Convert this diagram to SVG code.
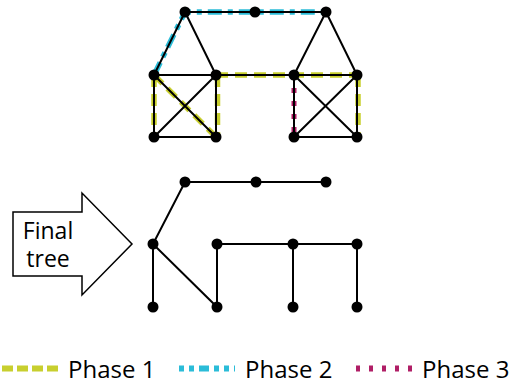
<svg xmlns="http://www.w3.org/2000/svg" width="512" height="385" viewBox="0 0 512 385">
<style>
.e{stroke:#000;stroke-width:2;fill:none;stroke-linecap:round}
.p1{stroke:#c8cf2e;stroke-width:5.5;fill:none;stroke-dasharray:12 7}
.p2{stroke:#2bbcd8;stroke-width:5.5;fill:none;stroke-dasharray:14 6 5 6}
.p3{stroke:#b01e66;stroke-width:5;fill:none;stroke-dasharray:5 8}
.n{fill:#000}
text{font-family:"Open Sans","Noto Sans",sans-serif;fill:#000}
.lt{font-size:23px}
.lg{font-size:24px}
</style>
<rect width="512" height="385" fill="#fff"/>
<g id="connectors">
<g id="phases">
<path class="p1" d="M154 75V137M154 75L216 137M217.5 75V137M216 75H357M358 75V137"/>
<path class="p2" d="M154 75L185 12H326"/>
<path class="p3" d="M294 75V137"/>
</g>
<path class="e" d="M185 12H326M185 12L154 75M185 12L216 75M326 12L294 75M326 12L357 75M154 75H357M154 75V137H216V75M154 75L216 137M216 75L154 137M294 75V137H357V75M294 75L357 137M357 75L294 137"/>
<path class="e" d="M185 182H326M185 182L153 244V307M153 244L217 307V244H357V307M293 244V307"/>
</g>
<g id="nodes">
<circle id="a1" class="n" cx="185" cy="12" r="5.5"/>
<circle id="a2" class="n" cx="255" cy="12" r="5.5"/>
<circle id="a3" class="n" cx="326" cy="12" r="5.5"/>
<circle id="b1" class="n" cx="154" cy="75" r="5.5"/>
<circle id="b2" class="n" cx="216" cy="75" r="5.5"/>
<circle id="b3" class="n" cx="294" cy="75" r="5.5"/>
<circle id="b4" class="n" cx="357" cy="75" r="5.5"/>
<circle id="c1" class="n" cx="154" cy="137" r="5.5"/>
<circle id="c2" class="n" cx="216" cy="137" r="5.5"/>
<circle id="c3" class="n" cx="294" cy="137" r="5.5"/>
<circle id="c4" class="n" cx="357" cy="137" r="5.5"/>
<circle id="t1" class="n" cx="185" cy="182" r="5.5"/>
<circle id="t2" class="n" cx="256" cy="182" r="5.5"/>
<circle id="t3" class="n" cx="326" cy="182" r="5.5"/>
<circle id="t4" class="n" cx="153" cy="244" r="5.5"/>
<circle id="t5" class="n" cx="217" cy="244" r="5.5"/>
<circle id="t6" class="n" cx="293" cy="244" r="5.5"/>
<circle id="t7" class="n" cx="357" cy="244" r="5.5"/>
<circle id="t8" class="n" cx="153" cy="307" r="5.5"/>
<circle id="t9" class="n" cx="217" cy="307" r="5.5"/>
<circle id="t10" class="n" cx="293" cy="307" r="5.5"/>
<circle id="t11" class="n" cx="357" cy="307" r="5.5"/>
</g>
<g id="arrow">
<polygon points="13,212 82,212 82,193 132,244 82,295 82,276 13,276" fill="#fff" stroke="#000" stroke-width="1.5"/>
<text class="lt" x="48" y="239" text-anchor="middle">Final</text>
<text class="lt" x="48" y="267" text-anchor="middle">tree</text>
</g>
<g id="legend">
<line x1="2" y1="368.5" x2="58" y2="368.5" stroke="#c8cf2e" stroke-width="6" stroke-dasharray="11 4"/>
<text class="lg" x="68" y="378">Phase 1</text>
<line x1="179" y1="368.5" x2="235" y2="368.5" stroke="#2bbcd8" stroke-width="6" stroke-dasharray="5 5 5 5 10 5"/>
<text class="lg" x="245" y="378">Phase 2</text>
<line x1="356" y1="368.5" x2="412" y2="368.5" stroke="#b01e66" stroke-width="6" stroke-dasharray="4 9"/>
<text class="lg" x="422" y="378">Phase 3</text>
</g>
</svg>
